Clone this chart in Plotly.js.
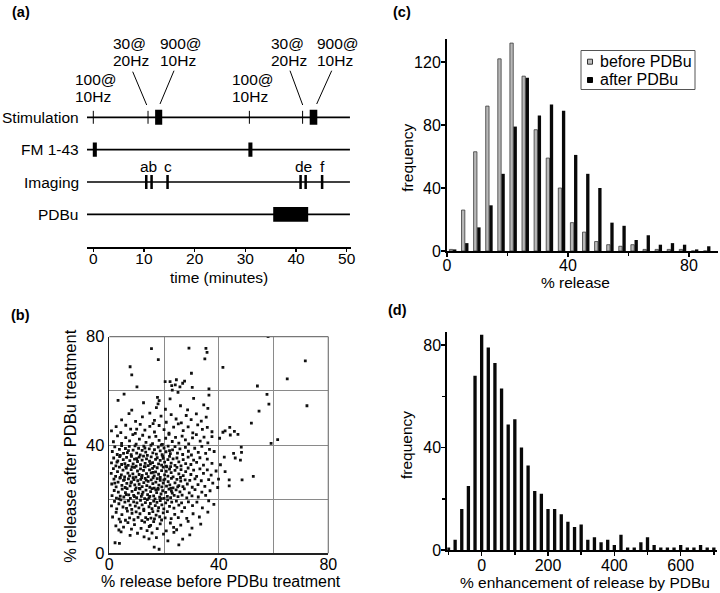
<!DOCTYPE html>
<html><head><meta charset="utf-8">
<script src="https://cdn.plot.ly/plotly-3.0.1.min.js"></script>
<style>html,body{margin:0;padding:0;background:#fff}#chart{width:720px;height:593px}</style>
</head><body><div id="chart"></div>
<script>
// ---------------- DATA ----------------
// (a) protocol timeline (minutes)
const rowNames = ['Stimulation', 'FM 1-43', 'Imaging', 'PDBu'];
const stimPulses = [0, 10.8, 30.8, 41.3];            // short trains (thin ticks)
const stimTrains = [[12.2, 13.6], [42.7, 44.2]];      // 900@10Hz trains
const stimLabelTop = ['100@', '30@', '900@', '100@', '30@', '900@'];
const stimLabelBottom = ['10Hz', '20Hz', '10Hz', '10Hz', '20Hz', '10Hz'];
const fmLoads = [[-0.1, 0.7], [30.6, 31.4]];
const imagingWindows = [[10.2, 10.7], [11.25, 11.75], [14.4, 14.9], [40.65, 41.15], [41.65, 42.15], [44.9, 45.4]];
const imagingLabels = ['ab', 'c', 'de', 'f'];
const imagingLabelWindows = [[0, 1], [2], [3, 4], [5]];
const pdbuWindows = [[35.5, 42.4]];
const timeTicks = [0, 10, 20, 30, 40, 50];

// (b) % release before vs after PDBu, one point per bouton
const scatterPoints = [
[2.1,3.9],[3.7,3.7],[16.4,2.3],[18.2,1.5],[25.4,3.1],
[14.5,5.3],[12.7,6.1],[17.2,5.8],[26.8,5.2],[10.3,7.4],[21.4,4.6],[7.6,6.6],[4.3,7.9],[19.8,7.1],[23.6,7.7],[29.4,6.8],[15.6,7.5],
[3.5,8.6],[2.4,10.1],[5.2,9.7],[6.8,11.3],[8.1,8.9],[9.2,10.6],[11.6,9.2],[12.9,11.5],[13.8,8.4],[15.1,10.3],[16.2,11.7],[17.5,9.1],[18.6,10.9],[20.8,8.3],[22.3,11.2],[23.5,9.6],[24.6,8.7],[26.1,10.4],[28.8,11.8],[30.2,9.3],[33.4,10.8],[4.1,11.6],[14.6,9.9],
[1.2,13.4],[2.5,15.1],[3.6,12.6],[4.6,14.3],[5.9,12.2],[6.6,15.6],[7.4,13.1],[8.3,14.8],[9.0,12.4],[9.8,15.3],[10.5,13.3],[11.2,14.6],[11.9,12.1],[12.6,15.8],[13.3,13.2],[14.0,12.5],[14.6,14.7],[15.2,13.0],[15.9,15.4],[16.5,12.7],[17.1,14.1],[17.8,15.7],[18.4,13.5],[19.1,12.3],[19.7,14.9],[20.4,13.1],[21.2,15.4],[22.6,12.8],[23.9,14.4],[25.2,13.2],[26.5,15.5],[28.3,12.9],[30.6,14.6],[32.9,13.4],[36.0,15.2],
[0.8,17.5],[1.9,19.2],[2.7,16.4],[3.5,18.3],[4.2,19.7],[5.0,17.1],[5.7,18.9],[6.3,16.6],[7.0,19.4],[7.6,17.8],[8.2,16.2],[8.9,19.0],[9.5,17.4],[10.1,18.6],[10.8,16.8],[11.4,19.6],[12.0,17.9],[12.6,16.3],[13.2,18.7],[13.9,19.8],[14.5,17.2],[15.0,18.4],[15.6,16.5],[16.2,19.3],[16.8,17.6],[17.4,18.8],[18.0,16.9],[18.6,19.5],[19.2,17.9],[19.9,16.4],[20.6,18.6],[21.3,19.7],[22.0,17.3],[22.8,18.9],[23.6,16.7],[24.5,19.3],[25.4,17.8],[26.4,18.6],[27.5,16.9],[28.9,19.0],[30.4,17.6],[32.0,18.9],[34.0,16.8],[36.3,19.4],[38.2,18.1],
[1.0,21.3],[1.8,23.2],[2.6,20.4],[3.3,22.6],[4.0,21.1],[4.7,23.7],[5.3,20.8],[5.9,22.4],[6.5,23.9],[7.1,21.6],[7.7,20.3],[8.3,22.9],[8.9,21.4],[9.5,23.5],[10.0,20.6],[10.6,22.2],[11.2,23.8],[11.7,21.0],[12.3,22.6],[12.9,20.2],[13.4,23.3],[14.0,21.7],[14.5,20.5],[15.1,22.8],[15.6,23.9],[16.2,21.2],[16.7,20.1],[17.3,22.4],[17.8,23.6],[18.4,20.7],[18.9,21.9],[19.5,23.1],[20.0,20.3],[20.6,22.5],[21.2,21.0],[21.8,23.7],[22.4,20.6],[23.0,22.2],[23.7,21.4],[24.4,23.4],[25.1,20.9],[25.8,22.7],[26.6,21.5],[27.4,23.8],[28.3,20.5],[29.2,22.3],[30.2,21.2],[31.3,23.5],[32.5,20.8],[33.8,22.6],[35.2,21.4],[36.8,23.1],[14.8,21.0],[12.0,21.8],[19.0,20.2],[9.2,20.9],[6.2,21.7],[22.7,23.0],[17.0,23.4],[3.6,20.1],
[0.9,25.6],[1.7,27.4],[2.5,24.5],[3.2,26.3],[3.9,27.8],[4.6,25.1],[5.2,26.9],[5.8,24.3],[6.4,25.8],[7.0,27.5],[7.6,24.9],[8.1,26.4],[8.7,27.9],[9.3,25.3],[9.8,24.2],[10.4,26.8],[10.9,25.5],[11.5,27.3],[12.0,24.6],[12.6,26.1],[13.1,27.7],[13.7,25.0],[14.2,26.6],[14.8,24.4],[15.3,27.1],[15.9,25.7],[16.4,24.1],[17.0,26.3],[17.5,27.6],[18.1,25.2],[18.6,26.9],[19.2,24.5],[19.7,25.9],[20.3,27.4],[20.9,24.8],[21.5,26.5],[22.1,25.3],[22.7,27.7],[23.3,24.2],[24.0,26.0],[24.7,27.3],[25.4,25.0],[26.1,26.7],[26.9,24.6],[27.7,27.1],[28.5,25.6],[29.4,26.9],[30.3,24.4],[31.3,27.5],[32.4,25.4],[33.6,26.8],[34.9,24.7],[36.3,27.2],[37.8,25.9],[11.0,24.0],[16.0,27.9],[7.9,26.0],[13.5,27.0],[19.9,27.0],[2.0,25.9],[22.5,24.0],[5.5,27.2],[17.8,24.0],[25.0,24.5],[9.0,27.2],
[0.7,29.5],[1.5,31.3],[2.3,28.4],[3.0,30.2],[3.7,31.8],[4.4,29.0],[5.0,30.7],[5.6,28.2],[6.2,31.5],[6.8,29.6],[7.4,28.6],[8.0,30.9],[8.6,29.3],[9.2,31.7],[9.7,28.1],[10.3,30.4],[10.9,29.1],[11.4,31.2],[12.0,28.8],[12.5,30.6],[13.1,31.9],[13.6,29.4],[14.2,28.3],[14.7,30.8],[15.3,29.7],[15.8,31.4],[16.4,28.6],[16.9,30.1],[17.5,31.6],[18.0,29.2],[18.6,28.0],[19.1,30.5],[19.7,31.8],[20.2,29.0],[20.8,30.3],[21.4,28.5],[22.0,31.1],[22.6,29.8],[23.3,28.2],[24.0,30.6],[24.7,31.7],[25.4,29.3],[26.2,30.9],[27.0,28.7],[27.9,30.2],[28.8,31.5],[29.8,29.1],[30.8,30.7],[31.9,28.4],[33.1,31.2],[34.4,29.5],[35.8,30.8],[37.2,28.9],[39.0,30.4],[4.0,28.0],[11.8,28.0],[8.3,31.9],[16.0,29.9],[21.0,31.9],[26.0,28.0],
[0.8,33.4],[1.6,35.2],[2.4,32.3],[3.1,34.1],[3.8,35.7],[4.5,32.8],[5.1,34.6],[5.7,33.1],[6.3,35.4],[6.9,32.5],[7.5,34.2],[8.1,35.8],[8.7,33.0],[9.2,34.8],[9.8,32.2],[10.3,33.9],[10.9,35.5],[11.4,32.7],[12.0,34.4],[12.5,35.9],[13.1,33.2],[13.6,34.9],[14.2,32.4],[14.7,34.0],[15.3,35.6],[15.8,33.5],[16.4,32.1],[16.9,34.7],[17.5,35.3],[18.0,33.0],[18.6,34.3],[19.1,32.6],[19.7,35.1],[20.2,33.7],[20.8,32.2],[21.4,34.6],[22.0,35.8],[22.6,33.3],[23.3,34.9],[24.0,32.5],[24.7,35.2],[25.4,33.8],[26.2,32.3],[27.0,34.6],[27.9,33.1],[28.8,35.5],[29.8,32.8],[30.8,34.4],[31.9,33.6],[33.1,35.3],[34.4,32.6],[35.8,34.8],[37.5,33.2],[15.0,33.0],[10.0,35.0],[6.0,32.0],[19.5,35.9],[12.8,32.0],[22.4,32.0],[2.8,33.7],
[1.1,37.6],[2.0,39.3],[2.9,36.5],[3.7,38.4],[4.5,39.8],[5.2,36.9],[5.9,38.7],[6.6,37.2],[7.3,39.5],[8.0,36.4],[8.7,38.1],[9.4,39.7],[10.0,37.0],[10.7,38.8],[11.3,36.3],[12.0,38.0],[12.6,39.6],[13.3,37.4],[13.9,36.2],[14.6,38.6],[15.2,39.9],[15.9,37.1],[16.5,38.3],[17.2,36.6],[17.9,39.2],[18.6,37.8],[19.3,36.4],[20.0,38.9],[20.7,37.5],[21.5,39.6],[22.3,36.8],[23.1,38.2],[24.0,39.4],[24.9,37.0],[25.8,38.6],[26.8,36.5],[27.8,39.1],[28.9,37.7],[30.0,36.3],[31.2,38.8],[32.5,37.3],[33.8,39.5],[35.2,36.9],[36.6,38.4],[38.3,37.6],[19.0,40.0],[13.0,38.9],[7.0,37.9],[4.0,36.2],[22.0,37.9],
[1.5,41.2],[3.0,43.4],[4.5,40.6],[6.0,42.7],[7.4,41.5],[8.6,43.8],[9.8,40.3],[11.0,42.2],[12.2,43.6],[13.4,41.0],[14.6,42.9],[15.8,40.5],[17.0,43.2],[18.2,41.7],[19.4,40.2],[20.6,42.5],[21.8,43.9],[23.0,41.3],[24.2,42.8],[25.4,40.7],[26.6,43.3],[27.8,41.9],[29.0,40.4],[30.4,42.6],[31.8,43.8],[33.2,41.4],[34.6,42.9],[36.0,40.8],[37.5,43.1],[40.3,42.5],[44.2,43.7],[47.0,43.9],[59.1,40.6],[61.5,42.0],
[0.8,45.2],[2.5,46.8],[4.2,44.6],[6.0,47.3],[7.8,45.9],[9.5,44.3],[11.3,47.6],[13.0,45.5],[14.8,46.9],[16.5,44.8],[18.2,47.2],[20.0,45.7],[21.8,44.4],[23.5,46.6],[25.2,47.8],[27.0,45.3],[28.8,46.7],[30.5,44.5],[32.3,47.4],[34.0,45.8],[35.8,46.5],[37.5,44.9],[44.0,46.5],[45.7,45.0],[41.5,44.7],[42.3,45.2],[16.0,47.9],[10.0,45.9],
[4.5,49.3],[7.2,51.6],[9.6,48.7],[12.1,50.4],[14.8,51.8],[16.5,49.1],[18.9,50.7],[20.8,48.4],[22.6,51.2],[24.4,49.6],[26.3,48.2],[28.1,50.9],[29.9,49.4],[31.8,51.5],[33.6,48.8],[35.4,50.3],[51.9,48.1],
[8.2,52.9],[17.2,53.8],[17.8,55.2],[26.0,54.5],[28.6,53.0],[34.5,54.8],[36.0,53.5],[54.7,52.5],[58.3,55.1],[72.2,54.5],[20.5,53.2],[12.5,55.6],
[5.4,58.8],[17.6,57.6],[18.2,56.4],[25.1,59.4],[30.8,57.2],[36.4,58.4],[57.6,58.7],[22.2,57.0],[3.2,56.5],
[10.1,61.5],[20.4,63.4],[22.2,63.4],[24.5,64.1],[22.8,61.9],[24.1,62.2],[25.8,61.5],[26.8,62.8],[23.0,60.3],[30.3,61.3],[36.4,60.7],[54.1,61.8],[27.5,63.6],
[8.2,65.9],[7.6,68.9],[17.9,71.5],[15.4,75.6],[29.1,75.8],[35.3,75.7],[35.7,74.2],[34.9,71.8],[30.0,66.5],[41.5,68.7],[65.0,64.4],[71.6,71.1],[58.0,80.0],
[48.2,39.2],[48.3,37.3],[45.4,36.9],[42.0,35.5],[46.0,35.2],[47.9,34.4],[40.6,32.7],[42.3,30.2],[39.9,27.4],[43.8,27.1],[48.5,27.1],[52.6,28.4],[43.8,24.9],[39.6,24.3]
];

// (c) % release histograms (4% bins)
const releaseBins = [2, 6, 10, 14, 18, 22, 26, 30, 34, 38, 42, 46, 50, 54, 58, 62, 66, 70, 74, 78, 82, 86];
const beforeFreq = [1, 26, 63, 92, 122, 132, 111, 77, 59, 40, 18, 12, 6, 4, 3, 4, 1, 1, 1, 1, 0, 0];
const afterFreq  = [1, 5, 15, 29, 49, 79, 110, 86, 93, 89, 61, 49, 40, 18, 16, 7, 10, 4, 5, 4, 1, 3];
const seriesNames = ['before PDBu', 'after PDBu'];

// (d) % enhancement histogram (20% bins)
const enhancementBins = [-100, -80, -60, -40, -20, 0, 20, 40, 60, 80, 100, 120, 140, 160, 180, 200, 220, 240, 260, 280, 300, 320, 340, 360, 380, 400, 420, 440, 460, 480, 500, 520, 540, 560, 580, 600, 620, 640, 660, 680, 700];
const enhancementFreq = [1, 4, 16, 25, 68, 84, 79, 73, 63, 49, 51, 40, 33, 23, 22, 16, 16, 14, 11, 9, 10, 4, 5, 3, 4, 2, 6, 1, 1, 3, 5, 2, 1, 1, 1, 2, 1, 1, 2, 1, 1];

// ---------------- LAYOUT HELPERS ----------------
const W = 720, H = 593;
const P = px => px / W;          // pixel x -> paper
const Q = py => 1 - py / H;      // pixel y -> paper
const FONT = 'Liberation Sans, Arial, Helvetica, sans-serif';
const f = (s, extra) => Object.assign({family: FONT, size: s, color: '#000'}, extra || {});

const rowY = {'Stimulation': 4, 'FM 1-43': 3, 'Imaging': 2, 'PDBu': 1};
const shapes = [];
const annotations = [];

// ---- panel (a) ----
rowNames.forEach(name => {
  shapes.push({type: 'line', xref: 'x domain', yref: 'y', x0: 0, x1: 0.996, y0: rowY[name], y1: rowY[name],
               line: {color: '#000', width: 1.7}});
  annotations.push({xref: 'paper', yref: 'y', x: P(80.5), y: rowY[name], text: name, showarrow: false,
                    xanchor: 'right', yanchor: 'middle', font: f(15.5)});
});
stimPulses.forEach(t => shapes.push({type: 'line', xref: 'x', yref: 'y', x0: t, x1: t,
  y0: rowY['Stimulation'] - 0.2, y1: rowY['Stimulation'] + 0.2, line: {color: '#000', width: 1}}));
stimTrains.forEach(([a, b]) => shapes.push({type: 'rect', xref: 'x', yref: 'y', x0: a, x1: b,
  y0: rowY['Stimulation'] - 0.23, y1: rowY['Stimulation'] + 0.23, fillcolor: '#000', line: {width: 0}}));
fmLoads.forEach(([a, b]) => shapes.push({type: 'rect', xref: 'x', yref: 'y', x0: a, x1: b,
  y0: rowY['FM 1-43'] - 0.22, y1: rowY['FM 1-43'] + 0.22, fillcolor: '#000', line: {width: 0}}));
imagingWindows.forEach(([a, b]) => {
  shapes.push({type: 'rect', xref: 'x', yref: 'y', x0: a, x1: b,
    y0: rowY['Imaging'] - 0.22, y1: rowY['Imaging'] + 0.22, fillcolor: '#000', line: {width: 0}});
});
imagingLabels.forEach((lab, i) => {
  const idx = imagingLabelWindows[i];
  const mid = idx.reduce((s, k) => s + (imagingWindows[k][0] + imagingWindows[k][1]) / 2, 0) / idx.length;
  annotations.push({xref: 'x', yref: 'paper', x: mid, y: Q(167), text: lab,
    showarrow: false, xanchor: 'center', yanchor: 'middle', font: f(15.5)});
});
pdbuWindows.forEach(([a, b]) => shapes.push({type: 'rect', xref: 'x', yref: 'y', x0: a, x1: b,
  y0: rowY['PDBu'] - 0.23, y1: rowY['PDBu'] + 0.23, fillcolor: '#000', line: {width: 0}}));

// stimulation labels (two lines each)
const labelLeft = [72.7, 111, 157.7, 230, 269.3, 315];
const labelTopY = [80, 43.5, 43.5, 80, 43.5, 43.5];
stimLabelTop.forEach((t, i) => {
  annotations.push({xref: 'paper', yref: 'paper', x: P(labelLeft[i]), y: Q(labelTopY[i]), text: t,
    showarrow: false, xanchor: 'left', yanchor: 'middle', font: f(15.5)});
  annotations.push({xref: 'paper', yref: 'paper', x: P(labelLeft[i]), y: Q(labelTopY[i] + 16.5), text: stimLabelBottom[i],
    showarrow: false, xanchor: 'left', yanchor: 'middle', font: f(15.5)});
});
// leader lines
[[132.7, 71.7, 146.7, 105], [174, 70.7, 160, 104], [290, 70.7, 302.7, 105], [331.7, 70.7, 316.7, 104]]
  .forEach(([x0, y0, x1, y1]) => shapes.push({type: 'line', xref: 'paper', yref: 'paper',
    x0: P(x0), y0: Q(y0), x1: P(x1), y1: Q(y1), line: {color: '#000', width: 1}}));

annotations.push({xref: 'paper', yref: 'paper', x: P(219), y: Q(277), text: 'time (minutes)', showarrow: false,
  xanchor: 'center', yanchor: 'middle', font: f(15.5)});

// panel letters
[['(a)', 21, 12], ['(c)', 401.5, 12], ['(b)', 20, 315], ['(d)', 397, 310]].forEach(([t, x, y]) =>
  annotations.push({xref: 'paper', yref: 'paper', x: P(x), y: Q(y), text: '<b>' + t + '</b>', showarrow: false,
    xanchor: 'center', yanchor: 'middle', font: f(14.5)}));

// ---- panel (b) titles + frame ----
annotations.push({xref: 'paper', yref: 'paper', x: P(220.5), y: Q(592), text: '% release before PDBu treatment',
  showarrow: false, xanchor: 'center', yanchor: 'bottom', font: f(16)});
annotations.push({xref: 'paper', yref: 'paper', x: P(70), y: Q(446.7), text: '% release after PDBu treatment',
  showarrow: false, xanchor: 'center', yanchor: 'middle', textangle: -90, font: f(16.5)});
shapes.push({type: 'line', xref: 'x2 domain', yref: 'y2 domain', x0: 0, x1: 1, y0: 1, y1: 1, line: {color: '#777', width: 1.2}});
shapes.push({type: 'line', xref: 'x2 domain', yref: 'y2 domain', x0: 1, x1: 1, y0: 0, y1: 1, line: {color: '#777', width: 1.2}});

// ---- panel (c) titles + legend ----
annotations.push({xref: 'paper', yref: 'paper', x: P(575), y: Q(282), text: '% release',
  showarrow: false, xanchor: 'center', yanchor: 'middle', font: f(15.5)});
annotations.push({xref: 'paper', yref: 'paper', x: P(406.7), y: Q(158), text: 'frequency',
  showarrow: false, xanchor: 'center', yanchor: 'middle', textangle: -90, font: f(15.5)});
shapes.push({type: 'rect', xref: 'paper', yref: 'paper', x0: P(581), x1: P(695), y0: Q(50.5), y1: Q(89.5),
  fillcolor: 'rgba(0,0,0,0)', line: {color: '#555', width: 1}});
shapes.push({type: 'rect', xref: 'paper', yref: 'paper', x0: P(587.5), x1: P(592.5), y0: Q(59.2), y1: Q(64.2),
  fillcolor: '#bdbdbd', line: {color: '#333', width: 1}});
shapes.push({type: 'rect', xref: 'paper', yref: 'paper', x0: P(587.5), x1: P(592.5), y0: Q(77.5), y1: Q(82.5),
  fillcolor: '#000', line: {color: '#000', width: 1}});
annotations.push({xref: 'paper', yref: 'paper', x: P(598), y: Q(61.7), text: seriesNames[0],
  showarrow: false, xanchor: 'left', yanchor: 'middle', font: f(16)});
annotations.push({xref: 'paper', yref: 'paper', x: P(598), y: Q(80), text: seriesNames[1],
  showarrow: false, xanchor: 'left', yanchor: 'middle', font: f(16)});

// ---- panel (d) titles ----
annotations.push({xref: 'paper', yref: 'paper', x: P(585), y: Q(582.5), text: '% enhancement of release by PDBu',
  showarrow: false, xanchor: 'center', yanchor: 'middle', font: f(15.5)});
annotations.push({xref: 'paper', yref: 'paper', x: P(406), y: Q(445), text: 'frequency',
  showarrow: false, xanchor: 'center', yanchor: 'middle', textangle: -90, font: f(15.5)});

// ---------------- TRACES ----------------
const traces = [
  {type: 'scatter', mode: 'markers', x: scatterPoints.map(p => p[0]), y: scatterPoints.map(p => p[1]),
   xaxis: 'x2', yaxis: 'y2', marker: {symbol: 'square', size: 2.8, color: '#111'}, showlegend: false, hoverinfo: 'skip'},
  {type: 'bar', name: seriesNames[0], x: releaseBins, y: beforeFreq, width: 1.1, offset: -1.2,
   xaxis: 'x3', yaxis: 'y3', marker: {color: '#b8b8b8', line: {color: '#3a3a3a', width: 0.8}}, showlegend: false},
  {type: 'bar', name: seriesNames[1], x: releaseBins, y: afterFreq, width: 1.1, offset: 0,
   xaxis: 'x3', yaxis: 'y3', marker: {color: '#080808', line: {width: 0}}, showlegend: false},
  {type: 'bar', name: 'enhancement', x: enhancementBins, y: enhancementFreq, width: 10,
   xaxis: 'x4', yaxis: 'y4', marker: {color: '#080808', line: {width: 0}}, showlegend: false}
];

const axBase = {showgrid: false, zeroline: false, showline: true, linecolor: '#000', linewidth: 2,
  ticks: 'outside', ticklen: 4, tickwidth: 1.5, tickcolor: '#000', fixedrange: true};

const layout = {
  width: W, height: H, margin: {l: 0, r: 0, t: 0, b: 0},
  paper_bgcolor: '#fff', plot_bgcolor: 'rgba(0,0,0,0)', showlegend: false,
  barmode: 'overlay', font: f(15),
  xaxis: Object.assign({}, axBase, {domain: [P(87), P(351)], range: [-1.243, 50.85], anchor: 'y',
    tickvals: timeTicks, ticklen: 3, tickfont: f(15.5), ticklabelstandoff: -6}),
  yaxis: {domain: [Q(246.7), Q(100)], range: [0, 4.535], anchor: 'x', visible: false, fixedrange: true},
  xaxis2: {domain: [P(109.3), P(328.3)], range: [0, 80], anchor: 'y2', showline: true, mirror: false,
    linecolor: '#222', linewidth: 1.6, ticks: '', dtick: 40, tick0: 0, showgrid: true, gridcolor: '#8a8a8a',
    gridwidth: 1, minor: {dtick: 20, showgrid: true, gridcolor: '#8a8a8a', gridwidth: 1}, zeroline: false,
    tickfont: f(16), fixedrange: true, ticklabelstandoff: -4},
  yaxis2: {domain: [Q(553.3), Q(336.7)], range: [0, 80], anchor: 'x2', showline: true, mirror: false,
    linecolor: '#222', linewidth: 1.6, ticks: '', dtick: 40, tick0: 0, showgrid: true, gridcolor: '#8a8a8a',
    gridwidth: 1, minor: {dtick: 20, showgrid: true, gridcolor: '#8a8a8a', gridwidth: 1}, zeroline: false,
    tickfont: f(16.5), fixedrange: true},
  xaxis3: Object.assign({}, axBase, {domain: [P(447), P(718)], range: [0, 89.6], anchor: 'y3',
    dtick: 40, tick0: 0, minor: {dtick: 20, ticks: 'outside', ticklen: 3, tickcolor: '#000'}, tickfont: f(16),
    ticklabelstandoff: -5}),
  yaxis3: Object.assign({}, axBase, {domain: [Q(251), Q(39)], range: [0, 134.6], anchor: 'x3',
    dtick: 40, tick0: 0, tickfont: f(16), ticklabelstandoff: -3}),
  xaxis4: Object.assign({}, axBase, {domain: [P(447.3), P(716.7)], range: [-103.6, 708.6], anchor: 'y4',
    dtick: 200, tick0: 0, minor: {dtick: 100, ticks: 'outside', ticklen: 3, tickcolor: '#000'}, tickfont: f(16),
    ticklabelstandoff: -4}),
  yaxis4: Object.assign({}, axBase, {domain: [Q(550), Q(331.7)], range: [0, 85.2], anchor: 'x4',
    dtick: 40, tick0: 0, minor: {dtick: 20, ticks: 'outside', ticklen: 3, tickcolor: '#000'}, tickfont: f(16),
    ticklabelstandoff: -3}),
  shapes: shapes,
  annotations: annotations
};

Plotly.newPlot('chart', traces, layout, {staticPlot: true, displayModeBar: false});
</script>
</body></html>
